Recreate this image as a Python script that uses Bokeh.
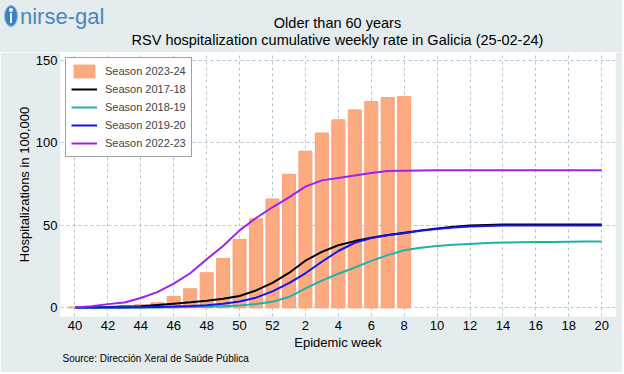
from bokeh.plotting import figure
from bokeh.models import FixedTicker, Title, Legend, Div
from bokeh.layouts import column
from bokeh.embed import file_html
from bokeh.resources import INLINE

# ---- data ----
weeks = [40, 41, 42, 43, 44, 45, 46, 47, 48, 49, 50, 51, 52,
         1, 2, 3, 4, 5, 6, 7, 8, 9, 10, 11, 12, 13, 14, 15, 16, 17, 18, 19, 20]
season_2023_24 = [0.5, 0.6, 0.8, 1.2, 1.9, 3.1, 7.0, 11.6, 21.3, 30.0, 41.5, 54.0, 66.0,
                  81.0, 95.0, 106.0, 114.0, 120.0, 125.0, 127.5, 128.0]
season_2017_18 = [0.2, 0.3, 0.5, 0.8, 1.0, 1.8, 2.6, 3.4, 4.3, 5.5, 7.2, 10.6, 15.2,
                  21.2, 28.6, 34.0, 38.0, 40.5, 42.5, 44.2, 45.6, 47.0, 48.2, 49.2, 49.9,
                  50.3, 50.5, 50.6, 50.6, 50.6, 50.6, 50.6, 50.6]
season_2018_19 = [0.0, 0.1, 0.1, 0.2, 0.2, 0.3, 0.4, 0.5, 0.7, 1.0, 1.5, 2.4, 3.7,
                  6.6, 11.8, 16.5, 20.7, 24.5, 28.5, 32.0, 35.0, 36.5, 37.5, 38.3, 38.8,
                  39.3, 39.6, 39.8, 40.0, 40.0, 40.1, 40.2, 40.3]
season_2019_20 = [0.1, 0.2, 0.2, 0.3, 0.4, 0.6, 0.8, 1.1, 1.6, 2.5, 3.9, 6.2, 10.0,
                  15.0, 21.0, 28.0, 34.5, 39.5, 42.3, 44.0, 45.3, 46.7, 47.9, 48.8, 49.4,
                  49.7, 49.9, 50.0, 50.0, 50.0, 50.0, 50.0, 50.0]
season_2022_23 = [0.3, 1.0, 2.3, 3.3, 6.0, 9.6, 14.7, 21.0, 29.5, 37.5, 47.0, 54.5, 61.0,
                  67.0, 73.5, 77.3, 78.8, 80.3, 81.8, 83.0, 83.2, 83.3, 83.4, 83.4, 83.5,
                  83.5, 83.5, 83.5, 83.5, 83.5, 83.5, 83.5, 83.5]
y_ticks = [0, 50, 100, 150]

idx = list(range(len(weeks)))
tick_idx = idx[::2]
labels = {i: str(weeks[i]) for i in tick_idx}

FONT = "Liberation Sans"
BG = "#E4ECEE"
W = 622

# ---------- header (logo + titles) as HTML text ----------
header_html = f"""
<div style="position:relative;width:{W}px;height:52px;background:{BG};
 font-family:'Liberation Sans',Arial,sans-serif;color:#000;overflow:hidden;">
  <div style="position:absolute;left:4px;top:5px;width:14px;height:22px;border-radius:50%;
   background:#3A80C8;border:1px solid #8CBBE6;box-sizing:border-box;"></div>
  <div style="position:absolute;left:9px;top:8px;width:4px;height:4px;border-radius:50%;background:#fff;"></div>
  <div style="position:absolute;left:10px;top:13px;width:2px;height:10px;background:#fff;"></div>
  <div style="position:absolute;left:20px;top:4px;font-size:22px;line-height:26px;
   color:#4A86BE;white-space:nowrap;">nirse-gal</div>
  <div style="position:absolute;left:60px;width:555px;top:15px;font-size:14.5px;
   line-height:16px;text-align:center;white-space:nowrap;">Older than 60 years</div>
  <div style="position:absolute;left:60px;width:555px;top:32px;font-size:14.5px;
   line-height:16px;text-align:center;white-space:nowrap;">RSV hospitalization cumulative weekly rate in Galicia (25-02-24)</div>
</div>
"""
hdr = Div(text=header_html, width=W, height=52, margin=0)

# ---------- main chart ----------
p = figure(frame_width=555, frame_height=264,
           x_range=(-0.88, 32.84), y_range=(-5.2, 154.8),
           output_backend="svg", toolbar_location=None,
           min_border_left=60, min_border_right=7,
           min_border_top=0, min_border_bottom=56)
p.background_fill_color = "white"
p.border_fill_color = BG
p.outline_line_color = None

src = Title(text="Source: Dirección Xeral de Saúde Pública", align="left",
            text_font=FONT, text_font_size="10px", text_font_style="normal",
            text_color="#000000", standoff=-4, offset=2)
p.add_layout(src, "below")

r_bar = p.vbar(x=idx[:len(season_2023_24)], top=season_2023_24, width=0.79, bottom=0,
               fill_color="#FDAA80", line_color="#FBA077", line_width=1)
r1 = p.line(idx, season_2017_18, line_color="#000000", line_width=2)
r2 = p.line(idx, season_2018_19, line_color="#20B2AA", line_width=2)
r3 = p.line(idx, season_2019_20, line_color="#1414F0", line_width=2)
r4 = p.line(idx, season_2022_23, line_color="#A020F0", line_width=2)

legend = Legend(items=[("Season 2023-24", [r_bar]), ("Season 2017-18", [r1]),
                       ("Season 2018-19", [r2]), ("Season 2019-20", [r3]),
                       ("Season 2022-23", [r4])],
                location="top_left")
legend.margin = 5
legend.padding = 5
legend.spacing = 2
legend.glyph_height = 16
legend.glyph_width = 26
legend.label_standoff = 8
legend.label_text_font = FONT
legend.label_text_font_size = "11px"
legend.border_line_color = "#444444"
legend.border_line_width = 1
legend.background_fill_color = "white"
legend.background_fill_alpha = 1
p.add_layout(legend)

ticker = FixedTicker(ticks=tick_idx)
p.xaxis.ticker = ticker
p.xaxis.major_label_overrides = labels
p.yaxis.ticker = FixedTicker(ticks=y_ticks)
for ax in (p.xaxis, p.yaxis):
    ax.axis_line_color = None
    ax.major_tick_line_color = None
    ax.minor_tick_line_color = None
    ax.major_tick_out = 0
    ax.major_tick_in = 0
    ax.major_label_text_font = FONT
    ax.major_label_text_font_size = "13px"
    ax.major_label_text_color = "#000000"
    ax.axis_label_text_font = FONT
    ax.axis_label_text_font_size = "13px"
    ax.axis_label_text_font_style = "normal"
    ax.axis_label_text_color = "#000000"
p.xaxis.axis_label = "Epidemic week"
p.yaxis.axis_label = "Hospitalizations in 100,000"
p.xaxis.major_label_standoff = 4
p.xaxis.axis_label_standoff = 2
p.yaxis.major_label_standoff = 3
p.yaxis.axis_label_standoff = 1

p.xgrid.ticker = ticker
p.ygrid.ticker = FixedTicker(ticks=y_ticks)
for g in (p.xgrid, p.ygrid):
    g.grid_line_color = "#B3C7CC"
    g.grid_line_dash = "3 3"
    g.grid_line_width = 1

layout = column(hdr, p, spacing=0)

html = file_html(layout, INLINE)
html = html.replace("<body>", '<body style="background-color:%s;">' % BG, 1)
open("out.html", "w").write(html)
